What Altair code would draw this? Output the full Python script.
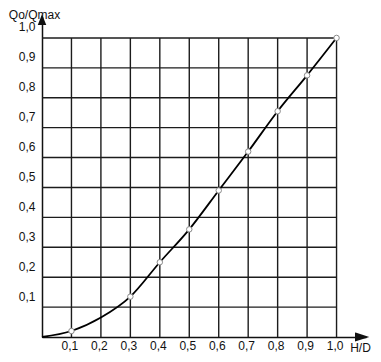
import altair as alt
import pandas as pd

# Data
hd = [0.0, 0.1, 0.2, 0.3, 0.4, 0.5, 0.6, 0.7, 0.8, 0.9, 1.0]
q = [0.0, 0.02, 0.065, 0.135, 0.25, 0.36, 0.49, 0.62, 0.755, 0.875, 1.0]
marker_hd = [0.1, 0.3, 0.4, 0.5, 0.6, 0.7, 0.8, 0.9, 1.0]
grid_vals = [0.1, 0.2, 0.3, 0.4, 0.5, 0.6, 0.7, 0.8, 0.9, 1.0]
x_max = 1.1
y_max = 1.07

FONT = "Liberation Sans"
INK = "#111111"

curve_df = pd.DataFrame({"hd": hd, "q": q})
mark_df = curve_df[curve_df["hd"].round(2).isin([round(v, 2) for v in marker_hd])]
vgrid_df = pd.DataFrame({"v": grid_vals, "lo": 0.0, "hi": 1.0})
hgrid_df = pd.DataFrame({"v": grid_vals, "lo": 0.0, "hi": 1.0})
xarrow_df = pd.DataFrame({"x": [x_max], "y": [0.0]})
yarrow_df = pd.DataFrame({"x": [0.0], "y": [y_max]})

xs = alt.Scale(domain=[0, x_max], nice=False, zero=True)
ys = alt.Scale(domain=[0, y_max], nice=False, zero=True)
label_expr = "replace(format(datum.value, '.1f'), '.', ',')"

x_axis = alt.Axis(
    values=grid_vals, labelExpr=label_expr, grid=False, ticks=False,
    domainColor=INK, domainWidth=1.5, labelFont=FONT, labelFontSize=12,
    labelColor=INK, labelPadding=3, labelOffset=-2,
    title="H/D", titleFont=FONT, titleFontSize=12, titleFontWeight="normal",
    titleColor=INK, titleAngle=0, titleX=318, titleY=10,
    titleBaseline="middle", titleAlign="center",
)
y_axis = alt.Axis(
    values=grid_vals, labelExpr=label_expr, grid=False, ticks=False,
    domainColor=INK, domainWidth=1.5, labelFont=FONT, labelFontSize=12,
    labelColor=INK, labelPadding=7, labelOffset=-11, labelBaseline="middle",
    title="Qo/Qmax", titleFont=FONT, titleFontSize=12, titleFontWeight="normal",
    titleColor=INK, titleAngle=0, titleX=-8, titleY=-3,
    titleBaseline="middle", titleAlign="center",
)

vgrid = alt.Chart(vgrid_df).mark_rule(color="#1c1c1c", strokeWidth=1.4).encode(
    x=alt.X("v:Q", scale=xs, axis=x_axis),
    y=alt.Y("lo:Q", scale=ys, axis=y_axis),
    y2="hi:Q",
)
hgrid = alt.Chart(hgrid_df).mark_rule(color="#1c1c1c", strokeWidth=1.4).encode(
    y=alt.Y("v:Q", scale=ys, axis=y_axis),
    x=alt.X("lo:Q", scale=xs, axis=x_axis),
    x2="hi:Q",
)
line = alt.Chart(curve_df).mark_line(
    color="#000000", strokeWidth=1.8, interpolate="monotone"
).encode(
    x=alt.X("hd:Q", scale=xs, axis=x_axis),
    y=alt.Y("q:Q", scale=ys, axis=y_axis),
)
points = alt.Chart(mark_df).mark_point(
    shape="circle", size=30, filled=True, fill="white", stroke="#8a8a8a",
    strokeWidth=1, opacity=1,
).encode(
    x=alt.X("hd:Q", scale=xs, axis=x_axis),
    y=alt.Y("q:Q", scale=ys, axis=y_axis),
)
xarrow = alt.Chart(xarrow_df).mark_point(
    shape="M-1,-0.32 L0,0 L-1,0.32 Z", size=400, filled=True,
    fill=INK, stroke=INK, opacity=1,
).encode(
    x=alt.X("x:Q", scale=xs, axis=x_axis),
    y=alt.Y("y:Q", scale=ys, axis=y_axis),
)
yarrow = alt.Chart(yarrow_df).mark_point(
    shape="M-0.4,1 L0,0 L0.4,1 Z", size=196, filled=True,
    fill=INK, stroke=INK, opacity=1,
).encode(
    x=alt.X("x:Q", scale=xs, axis=x_axis),
    y=alt.Y("y:Q", scale=ys, axis=y_axis),
)

chart = alt.layer(vgrid, hgrid, line, points, xarrow, yarrow).properties(
    width=324, height=320,
    padding={"left": 34, "top": 9, "right": 7, "bottom": 17},
    autosize="none",
).configure_view(stroke=None)

chart.save("out.html", embed_options={"renderer": "svg", "actions": False})
